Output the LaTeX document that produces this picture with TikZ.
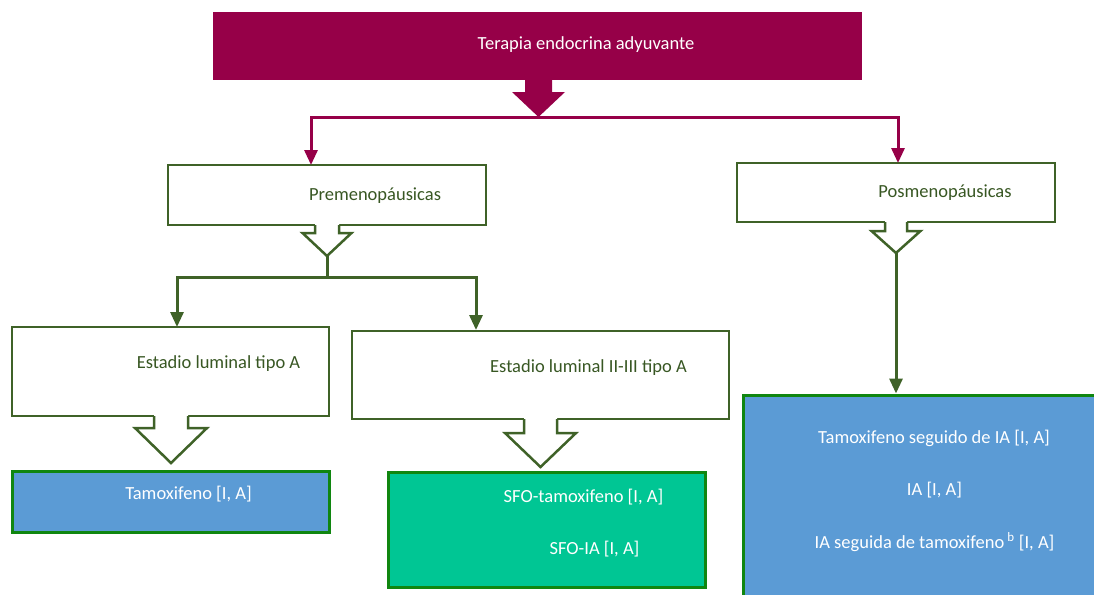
\documentclass[tikz,border=0pt]{standalone}
\usepackage{fontspec}
\setmainfont{Carlito}
\usetikzlibrary{arrows.meta}
\definecolor{maroon}{RGB}{150,0,72}
\definecolor{olivegr}{RGB}{63,98,40}
\definecolor{olivetx}{RGB}{56,87,35}
\definecolor{bordgr}{RGB}{16,134,16}
\definecolor{bluef}{RGB}{91,155,213}
\definecolor{tealf}{RGB}{0,198,148}
\tikzset{
  x=1pt, y=-1pt,
  every node/.style={font=\fontsize{18.5}{22}\selectfont, inner sep=0pt},
  outbox/.style={draw=olivegr, line width=2.5pt, fill=white},
  colbox/.style={draw=bordgr, line width=3pt},
  greentx/.style={text=olivetx},
  whitetx/.style={text=white},
  mline/.style={draw=maroon, line width=3pt, -{Triangle[width=13pt,length=15pt]}},
  gline/.style={draw=olivegr, line width=3pt, -{Triangle[width=13pt,length=15pt]}},
  hollow/.style={draw=olivegr, line width=2.5pt, line join=miter},
}
\newcommand{\hollowarrow}[6]{% center x, box bottom y, shoulder y, tip y, shaft half width, head half width
  \fill[white] (#1-#5,#2-1.5) -- (#1-#5,#3) -- (#1-#6,#3) -- (#1,#4) -- (#1+#6,#3) -- (#1+#5,#3) -- (#1+#5,#2-1.5) -- cycle;
  \draw[hollow] (#1-#5,#2) -- (#1-#5,#3) -- (#1-#6,#3) -- (#1,#4) -- (#1+#6,#3) -- (#1+#5,#3) -- (#1+#5,#2);
}
\begin{document}
\begin{tikzpicture}
\useasboundingbox (0,0) rectangle (1094,594);
% top box
\node[fill=maroon, minimum width=649pt, minimum height=68pt] (top) at (537.5,46) {};
\node[whitetx] (topT) at (586,45) {Terapia endocrina adyuvante};
% level 2 boxes
\node[outbox, minimum width=318pt, minimum height=60pt] (pre) at (327,195) {};
\node[greentx] (preT) at (375,196) {Premenopáusicas};
\node[outbox, minimum width=318pt, minimum height=59pt] (pos) at (896,192.5) {};
\node[greentx] (posT) at (945,193) {Posmenopáusicas};
% level 3 boxes
\node[outbox, minimum width=317pt, minimum height=89pt] (estA) at (170.5,371.5) {};
\node[greentx] (estAT) at (218.5,364) {Estadio luminal tipo A};
\node[outbox, minimum width=377pt, minimum height=88pt] (estB) at (540.5,375) {};
\node[greentx] (estBT) at (588.5,368) {Estadio luminal II-III tipo A};
% result boxes
\node[colbox, fill=bluef, minimum width=317pt, minimum height=61pt] (tam) at (170.5,501.5) {};
\node[whitetx] (tamT) at (188.5,494) {Tamoxifeno [I, A]};
\node[colbox, fill=tealf, minimum width=317pt, minimum height=115pt] (sfo) at (546.5,529.5) {};
\node[whitetx] (sfo1) at (583.5,497) {SFO-tamoxifeno [I, A]};
\node[whitetx] (sfo2) at (594.5,549) {SFO-IA [I, A]};
\node[colbox, fill=bluef, minimum width=420pt, minimum height=260pt] (post) at (953,525) {};
\node[whitetx] (post1) at (934,438) {Tamoxifeno seguido de IA [I, A]};
\node[whitetx] (post2) at (934.5,490) {IA [I, A]};
\node[whitetx] (post3) at (934.5,542) {IA seguida de tamoxifeno\,\textsuperscript{b} [I, A]};
% maroon block arrow
\fill[maroon] (525,79) -- (525,92) -- (512,92) -- (538.5,117) -- (565,92) -- (552,92) -- (552,79) -- cycle;
\coordinate (msplit) at (538.5,117);
\coordinate (preIn) at (311,165);
\coordinate (posIn) at (898,163);
\draw[mline] (msplit) -- (311,117) -- (preIn);
\draw[mline] (msplit) -- (898,117) -- (posIn);
% hollow arrows
\hollowarrow{327}{225}{233}{256}{12}{24.5}
\hollowarrow{896}{222}{231}{253}{11}{24.5}
\hollowarrow{171}{416}{428}{463}{17}{36}
\hollowarrow{540.5}{419}{433}{467}{16.5}{35.5}
\coordinate (preTip) at (327,256);
\coordinate (posTip) at (896,253);
\coordinate (estAIn) at (177,327);
\coordinate (estBIn) at (476,330);
\draw[gline] (preTip) -- (327,277) -| (estAIn);
\draw[gline] (preTip) -- (327,277) -| (estBIn);
\draw[gline] (posTip) -- (post.north -| posTip);
\end{tikzpicture}
\end{document}
